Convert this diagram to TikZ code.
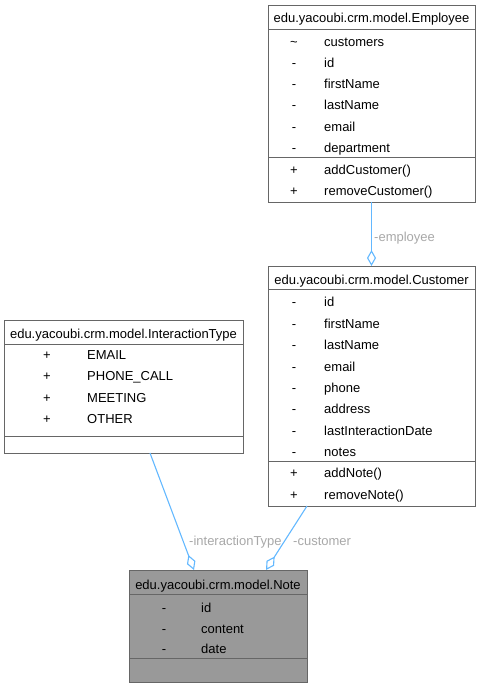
\documentclass[tikz,border=0pt]{standalone}
\usepackage{fontspec}
\setmainfont{Liberation Sans}
\usetikzlibrary{arrows.meta}
\definecolor{boxgray}{HTML}{666666}
\definecolor{notegray}{HTML}{999999}
\definecolor{edgeblue}{HTML}{63B8FF}
\definecolor{labgray}{HTML}{A8A8A8}
\begin{document}
\begin{tikzpicture}[x=1pt,y=-1pt,
  every node/.style={font=\fontsize{13}{15}\selectfont, inner sep=0pt, text height=13pt, text depth=1pt},
  classbox/.style={draw=boxgray, line width=1pt, fill=white, anchor=north west, text height=, text depth=},
  sep/.style={draw=boxgray, line width=1pt},
  vis/.style={anchor=center},
  mem/.style={anchor=west},
  ttl/.style={anchor=center},
  edge/.style={draw=edgeblue, line width=1.1pt, -{Diamond[open,length=16pt,width=9pt]}},
  elabel/.style={anchor=west, text=labgray}]
\useasboundingbox (0,0) rectangle (481,688);

% Employee
\node[classbox, minimum width=207pt, minimum height=197pt] (emp) at (268,5) {};
\draw[sep] (268,29) -- (475,29);
\draw[sep] (268,157) -- (475,157);
\node[ttl] (emp-t) at (371.5,17) {edu.yacoubi.crm.model.Employee};
\node[vis] (emp-v1) at (294,40) {\textasciitilde};
\node[mem] (emp-m1) at (324,40) {customers};
\node[vis] (emp-v2) at (294,61) {-};
\node[mem] (emp-m2) at (324,61) {id};
\node[vis] (emp-v3) at (294,82) {-};
\node[mem] (emp-m3) at (324,82) {firstName};
\node[vis] (emp-v4) at (294,103) {-};
\node[mem] (emp-m4) at (324,103) {lastName};
\node[vis] (emp-v5) at (294,125) {-};
\node[mem] (emp-m5) at (324,125) {email};
\node[vis] (emp-v6) at (294,146) {-};
\node[mem] (emp-m6) at (324,146) {department};
\node[vis] (emp-v7) at (294,168) {+};
\node[mem] (emp-m7) at (324,168) {addCustomer()};
\node[vis] (emp-v8) at (294,189) {+};
\node[mem] (emp-m8) at (324,189) {removeCustomer()};

% Customer
\node[classbox, minimum width=207pt, minimum height=240pt] (cust) at (268,266) {};
\draw[sep] (268,289) -- (475,289);
\draw[sep] (268,461) -- (475,461);
\node[ttl] (cust-t) at (371.5,278) {edu.yacoubi.crm.model.Customer};
\node[vis] (cust-v1) at (294,300) {-};
\node[mem] (cust-m1) at (324,300) {id};
\node[vis] (cust-v2) at (294,322) {-};
\node[mem] (cust-m2) at (324,322) {firstName};
\node[vis] (cust-v3) at (294,343) {-};
\node[mem] (cust-m3) at (324,343) {lastName};
\node[vis] (cust-v4) at (294,365) {-};
\node[mem] (cust-m4) at (324,365) {email};
\node[vis] (cust-v5) at (294,386) {-};
\node[mem] (cust-m5) at (324,386) {phone};
\node[vis] (cust-v6) at (294,407) {-};
\node[mem] (cust-m6) at (324,407) {address};
\node[vis] (cust-v7) at (294,429) {-};
\node[mem] (cust-m7) at (324,429) {lastInteractionDate};
\node[vis] (cust-v8) at (294,450) {-};
\node[mem] (cust-m8) at (324,450) {notes};
\node[vis] (cust-v9) at (294,471) {+};
\node[mem] (cust-m9) at (324,471) {addNote()};
\node[vis] (cust-v10) at (294,493) {+};
\node[mem] (cust-m10) at (324,493) {removeNote()};

% InteractionType
\node[classbox, minimum width=239pt, minimum height=133pt] (itype) at (4,320) {};
\draw[sep] (4,344) -- (243,344);
\draw[sep] (4,436) -- (243,436);
\node[ttl] (itype-t) at (123.5,332) {edu.yacoubi.crm.model.InteractionType};
\node[vis] (itype-v1) at (47,353) {+};
\node[mem] (itype-m1) at (87,353) {EMAIL};
\node[vis] (itype-v2) at (47,374) {+};
\node[mem] (itype-m2) at (87,374) {PHONE\_CALL};
\node[vis] (itype-v3) at (47,396) {+};
\node[mem] (itype-m3) at (87,396) {MEETING};
\node[vis] (itype-v4) at (47,417) {+};
\node[mem] (itype-m4) at (87,417) {OTHER};

% Note
\node[classbox, fill=notegray, minimum width=178pt, minimum height=112pt] (note) at (129,570) {};
\draw[sep] (129,594) -- (307,594);
\draw[sep] (129,658) -- (307,658);
\node[ttl] (note-t) at (218,583) {edu.yacoubi.crm.model.Note};
\node[vis] (note-v1) at (164,606) {-};
\node[mem] (note-m1) at (201,606) {id};
\node[vis] (note-v2) at (164,627) {-};
\node[mem] (note-m2) at (201,627) {content};
\node[vis] (note-v3) at (164,647) {-};
\node[mem] (note-m3) at (201,647) {date};

% connectors
\coordinate (emp-out) at (371.5,202);
\coordinate (cust-in) at (371.5,266);
\coordinate (itype-out) at (150,453);
\coordinate (note-in1) at (194,570);
\coordinate (cust-out) at (307,506);
\coordinate (note-in2) at (266,570);
\draw[edge] (emp-out) -- (cust-in);
\draw[edge] (itype-out) -- (note-in1);
\draw[edge] (cust-out) -- (note-in2);
\node[elabel] (lab-emp) at (374,235) {-employee};
\node[elabel] (lab-it) at (189,539) {-interactionType};
\node[elabel] (lab-cust) at (293,539) {-customer};
\end{tikzpicture}
\end{document}
